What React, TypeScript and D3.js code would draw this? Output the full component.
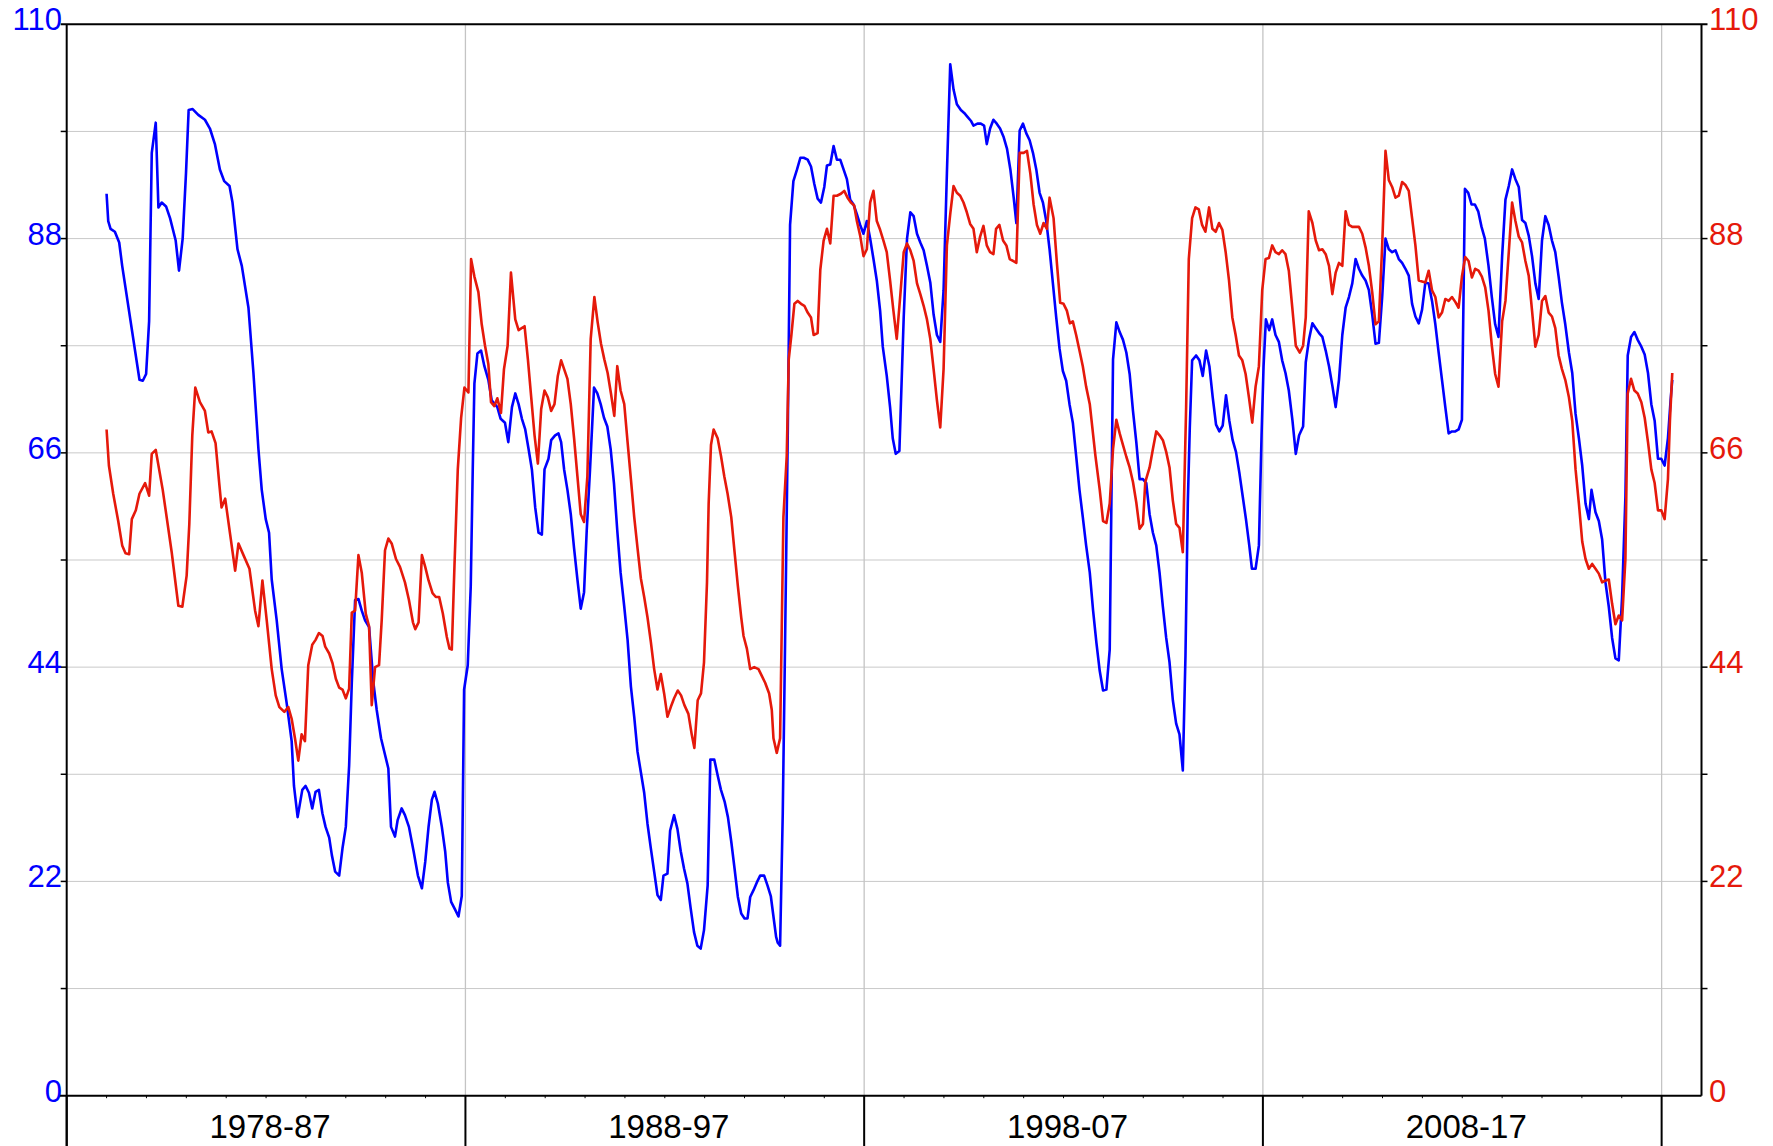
import React from "react";
import * as d3 from "d3";

// Month index counted from January 1979 (0 = Jan 1979).
const blue1979_87: [number, number][] = [
  [0, 92.6], [0.5, 89.8], [1.2, 89.0], [2.5, 88.7], [3.8, 87.6], [4.7, 85.2], [9.9, 73.5], [10.9, 73.4], [11.9, 74.1], [12.8, 79.5], [13.6, 96.8], [14.8, 99.9], [15.6, 91.2], [16.6, 91.7], [17.9, 91.3], [19.1, 90.1], [20.8, 87.8], [21.8, 84.7], [22.9, 88.0], [23.9, 94.7], [24.7, 101.2], [25.9, 101.3], [27.6, 100.7], [29.6, 100.2], [31.1, 99.3], [32.6, 97.7], [34.1, 95.1], [35.4, 93.9], [37.0, 93.4], [37.9, 91.7], [39.4, 86.9], [40.7, 85.2], [42.7, 80.9], [44.2, 74.2], [45.7, 66.4], [46.7, 62.2], [47.9, 59.2], [48.9, 57.8], [49.7, 53.0], [51.2, 48.8], [52.7, 43.8], [54.2, 40.3], [55.7, 36.4], [56.4, 31.8], [57.5, 28.6],
  [58.9, 31.4], [59.9, 31.8], [60.9, 31.1], [61.9, 29.5], [62.9, 31.2], [63.9, 31.4], [64.95, 29.0], [65.9, 27.6], [67.0, 26.5], [67.8, 24.7], [68.8, 23.0], [70.0, 22.6], [71.0, 25.4], [72.0, 27.6], [73.0, 33.9], [73.8, 42.4], [74.8, 50.9], [75.8, 51.0], [76.8, 49.8], [77.8, 48.8], [79.0, 48.1], [80.3, 42.4], [81.3, 39.6], [82.6, 36.7], [83.8, 35.0], [84.8, 33.6], [85.6, 27.6], [86.8, 26.6], [87.6, 28.3], [88.8, 29.5], [89.8, 28.8], [91.0, 27.6], [92.4, 25.1], [93.7, 22.6], [94.9, 21.3], [95.9, 24.0], [96.9, 27.6], [97.9, 30.4], [98.7, 31.2], [99.7, 30.0], [100.9, 27.6], [101.9, 25.1], [102.7, 21.9], [103.7, 19.9], [104.9, 19.1], [105.9, 18.4], [106.9, 20.5], [107.6, 41.7],
];
const blue1988_97: [number, number][] = [
  [108.7, 44.2], [109.6, 52.3], [110.2, 64.3], [110.7, 73.1], [111.6, 76.2], [112.7, 76.5], [113.7, 74.9], [114.9, 73.5], [115.9, 71.4], [117.6, 70.7], [118.6, 69.5], [119.9, 69.1], [120.9, 67.1], [122.0, 70.7], [123.0, 72.1], [124.0, 71.0], [125.0, 69.5], [126.0, 68.4], [127.0, 66.4], [128.0, 64.3], [129.0, 60.4], [130.0, 57.8], [131.0, 57.6], [131.8, 64.3], [133.0, 65.4], [133.8, 67.3], [135.0, 67.8], [136.0, 68.0], [136.8, 67.1], [137.7, 64.3], [138.7, 62.2], [139.7, 59.7], [140.7, 56.2], [141.7, 53.0], [142.7, 50.0], [143.7, 51.7], [144.5, 58.0], [145.5, 64.3], [146.7, 72.7], [147.7, 72.1], [148.7, 71.0], [149.7, 69.6], [150.7, 68.7], [151.7, 66.4], [152.7, 62.9], [153.7, 58.0], [154.7, 53.7], [155.8, 50.2], [156.8, 46.8], [157.8, 42.0], [158.8, 38.9], [159.8, 35.3], [160.8, 33.2], [161.8, 31.1], [162.8, 27.9], [163.8, 25.4], [164.8, 23.0], [165.8, 20.6], [166.8, 20.1], [167.6, 22.6], [168.8, 22.8], [169.6, 27.2], [170.8, 28.8], [171.8, 27.4], [172.8, 25.1], [173.8, 23.3], [174.8, 21.8], [175.8, 19.2], [176.8, 16.8], [177.8, 15.4], [178.8, 15.1],
  [179.8, 17.0], [180.9, 21.6], [181.7, 34.5], [182.9, 34.5], [183.9, 32.9], [184.9, 31.4], [186.0, 30.2], [187.0, 28.6], [188.0, 26.1], [189.0, 23.3], [190.0, 20.4], [191.0, 18.7], [192.0, 18.2], [192.9, 18.2], [193.7, 20.4], [194.7, 21.1], [195.7, 21.9], [196.7, 22.6], [197.9, 22.6], [198.9, 21.6], [199.9, 20.5], [200.7, 18.4], [201.5, 16.3], [202.0, 15.7], [202.7, 15.4], [203.5, 29.0], [204.2, 46.6], [205.0, 67.8], [205.7, 89.4], [206.7, 93.9], [207.8, 95.1], [208.8, 96.3], [209.8, 96.3], [211.0, 96.1], [212.0, 95.4], [213.0, 93.6], [214.0, 92.1], [215.0, 91.7], [216.0, 93.3], [216.8, 95.5], [217.8, 95.6], [218.8, 97.5], [219.8, 96.1], [220.8, 96.1], [221.8, 95.1], [222.8, 94.1], [223.8, 92.0], [224.8, 91.5], [225.8, 90.5], [226.8, 89.4], [227.8, 88.5],
];
const blue1998_07: [number, number][] = [
  [228.8, 89.8], [229.8, 88.0], [230.8, 85.9], [231.8, 83.7], [232.8, 80.6], [233.6, 76.9], [234.8, 73.9], [235.8, 70.7], [236.6, 67.5], [237.5, 65.9], [238.6, 66.2], [239.9, 79.9], [240.9, 88.0], [241.9, 90.7], [242.9, 90.3], [243.9, 88.5], [244.9, 87.6], [245.9, 86.8], [246.9, 85.2], [247.9, 83.5], [248.9, 80.2], [249.9, 78.1], [250.9, 77.4], [251.9, 82.7], [252.9, 94.7], [253.9, 105.9], [254.9, 103.3], [255.9, 101.8], [257.1, 101.2], [258.1, 100.9], [259.1, 100.5], [260.1, 100.1], [260.9, 99.6], [262.1, 99.8], [263.1, 99.8], [264.1, 99.6], [264.9, 97.7], [265.9, 99.3], [266.9, 100.2], [267.9, 99.8], [268.9, 99.3], [270.0, 98.4], [271.0, 97.2], [272.0, 95.1], [273.0, 92.2], [273.8, 89.6], [274.8, 99.1], [275.8, 99.8], [276.8, 98.8], [277.8, 98.1], [278.8, 96.8], [279.8, 95.1], [280.8, 92.7], [281.8, 91.7], [282.8, 89.8], [283.8, 86.9], [284.8, 83.4], [285.8, 79.9], [286.8, 76.7], [287.8, 74.4], [288.8, 73.4], [289.8, 71.0], [290.8, 69.1], [291.8, 65.7], [292.8, 62.2], [293.8, 59.4], [294.8, 56.5], [295.9, 53.7], [296.9, 49.8],
  [297.9, 46.5], [298.9, 43.6], [299.9, 41.6], [300.9, 41.7], [301.9, 45.8], [302.9, 75.6], [303.9, 79.4], [304.9, 78.4], [305.9, 77.6], [306.9, 76.3], [307.9, 74.1], [308.9, 70.3], [309.9, 67.1], [310.9, 63.3], [311.9, 63.3], [312.9, 62.9], [313.9, 59.7], [314.9, 57.8], [315.9, 56.5], [316.9, 53.7], [317.9, 50.2], [318.9, 47.0], [319.9, 44.5], [320.9, 40.6], [321.9, 38.2], [322.9, 37.1], [323.9, 33.4], [324.7, 45.2], [325.4, 60.8], [326.0, 68.6], [326.7, 75.5], [327.9, 76.0], [328.9, 75.5], [329.9, 73.9], [330.9, 76.5], [331.9, 74.9], [332.9, 71.7], [333.9, 68.9], [334.9, 68.2], [335.9, 68.8], [336.9, 71.9], [337.9, 69.3], [338.9, 67.3], [339.9, 66.1], [340.9, 64.0], [341.9, 61.6], [342.9, 59.2], [343.9, 56.5], [344.7, 54.1], [345.8, 54.1], [346.8, 56.5], [347.6, 67.8],
];
const blue2008_18: [number, number][] = [
  [348.2, 74.9], [348.9, 79.7], [349.9, 78.6], [350.8, 79.7], [351.8, 78.1], [352.8, 77.4], [353.8, 75.5], [354.8, 74.2], [355.8, 72.4], [356.9, 69.3], [357.9, 65.9], [358.9, 67.8], [360.1, 68.7], [360.9, 75.3], [361.9, 77.7], [362.9, 79.3], [363.9, 78.8], [364.9, 78.3], [365.9, 77.9], [366.9, 76.5], [367.9, 74.9], [368.9, 72.9], [369.9, 70.7], [370.9, 73.5], [371.9, 78.1], [372.9, 80.9], [373.9, 82.0], [374.9, 83.4], [375.9, 85.9], [376.9, 84.9], [377.9, 84.2], [378.9, 83.7], [379.9, 82.7], [380.9, 80.2], [381.9, 77.2], [382.9, 77.3], [383.9, 82.0], [384.9, 88.0], [385.9, 86.9], [386.9, 86.6], [387.9, 86.8], [388.9, 85.9], [389.9, 85.5], [390.9, 84.9], [391.9, 84.2], [392.9, 81.3], [393.9, 80.0], [394.9, 79.3], [395.9, 80.7], [396.9, 83.5], [397.9, 83.4], [398.9, 81.6], [399.9, 79.2], [400.9, 76.3], [401.9, 73.5], [402.9, 70.7], [403.9, 68.0], [404.9, 68.2], [405.9, 68.2], [406.9, 68.4], [407.9, 69.4], [408.8, 93.1], [409.8, 92.7], [410.8, 91.5], [411.8, 91.5], [412.8, 90.8], [413.8, 89.2], [414.8, 88.0], [415.9, 85.2], [416.9, 82.0], [417.9, 79.2], [418.9, 77.9],
  [420.0, 86.2], [421.0, 92.0], [422.0, 93.4], [423.0, 95.1], [424.0, 94.1], [425.0, 93.3], [426.0, 89.9], [427.0, 89.6], [428.0, 88.3], [429.0, 86.2], [430.0, 83.4], [431.0, 81.8], [432.0, 87.8], [433.0, 90.3], [434.0, 89.4], [435.0, 87.8], [436.0, 86.6], [437.0, 84.1], [438.0, 81.4], [439.0, 79.2], [440.1, 76.3], [441.1, 74.2], [442.1, 70.0], [443.1, 67.5], [444.1, 64.7], [445.1, 60.8], [446.1, 59.2], [446.9, 62.2], [448.1, 59.9], [449.1, 59.0], [450.1, 57.1], [451.1, 52.7], [452.1, 50.2], [453.1, 47.0], [454.1, 44.9], [455.1, 44.7], [456.1, 51.2], [457.1, 61.5], [457.8, 76.0], [458.8, 77.9], [459.8, 78.4], [460.8, 77.6], [461.9, 76.9], [462.9, 76.1], [463.9, 74.2], [464.9, 71.0], [465.9, 69.3], [466.9, 65.4], [467.9, 65.4], [468.9, 64.7], [469.9, 67.5], [470.7, 71.4], [471.2, 73.5],
];

const red1979_87: [number, number][] = [
  [0, 68.4], [0.7, 64.7], [2.0, 61.8], [3.5, 59.0], [4.7, 56.5], [5.7, 55.7], [6.8, 55.6], [7.6, 59.2], [8.8, 60.1], [9.9, 61.8], [11.6, 62.9], [12.8, 61.6], [13.6, 65.9], [14.8, 66.3], [16.9, 62.2], [19.6, 55.8], [21.6, 50.3], [22.8, 50.2], [24.1, 53.4], [24.9, 58.7], [25.8, 67.8], [26.7, 72.7], [28.1, 71.2], [29.6, 70.3], [30.6, 68.1], [31.6, 68.2], [32.8, 67.0], [33.9, 62.9], [34.6, 60.4], [35.7, 61.3], [37.2, 57.6], [38.7, 53.9], [39.7, 56.7], [41.2, 55.5], [43.0, 54.1], [44.7, 49.8], [45.7, 48.2], [46.9, 52.9], [48.2, 48.8], [49.7, 43.8], [50.9, 41.1], [52.0, 39.9], [53.5, 39.4], [54.7, 39.9], [55.7, 38.7], [56.7, 36.7], [57.7, 34.4],
  [58.7, 37.1], [59.7, 36.4], [60.7, 44.2], [61.9, 46.3], [62.9, 46.8], [63.9, 47.5], [65.0, 47.2], [65.8, 46.1], [67.0, 45.4], [68.0, 44.4], [69.0, 42.8], [70.0, 41.9], [71.0, 41.7], [72.0, 40.8], [73.0, 41.8], [73.8, 49.6], [74.8, 49.8], [75.8, 55.5], [76.8, 53.7], [78.0, 49.5], [79.0, 48.2], [79.8, 40.1], [80.8, 44.0], [82.0, 44.2], [82.8, 48.8], [83.8, 56.0], [84.8, 57.2], [85.8, 56.7], [87.1, 55.1], [88.3, 54.3], [89.8, 52.7], [91.0, 50.9], [92.2, 48.6], [92.9, 47.9], [93.9, 48.6], [94.9, 55.5], [95.9, 54.3], [96.9, 52.9], [98.1, 51.6], [99.1, 51.2], [100.1, 51.2], [101.2, 49.5], [102.4, 47.1], [103.2, 45.9], [103.9, 45.8], [104.7, 54.4], [105.7, 64.3], [106.7, 69.6], [107.7, 72.7],
];
const red1988_97: [number, number][] = [
  [108.9, 72.2], [109.7, 85.9], [110.7, 84.1], [111.9, 82.5], [112.9, 79.2], [113.9, 77.0], [114.9, 75.1], [115.7, 71.2], [116.7, 70.8], [117.6, 71.6], [118.7, 70.1], [119.6, 74.6], [120.7, 77.0], [121.7, 84.5], [123.0, 79.7], [124.0, 78.6], [125.8, 79.0], [126.8, 75.6], [127.8, 71.7], [128.8, 67.8], [129.8, 64.9], [130.8, 70.5], [131.8, 72.4], [132.8, 71.7], [133.8, 70.3], [134.8, 71.0], [135.8, 73.9], [136.8, 75.5], [137.7, 74.6], [138.7, 73.6], [139.7, 71.0], [140.7, 67.5], [141.7, 63.6], [142.7, 59.7], [143.7, 58.9], [144.7, 63.6], [145.7, 77.7], [146.8, 82.0], [147.8, 79.4], [148.8, 77.2], [149.8, 75.6], [150.8, 74.2], [151.8, 72.1], [152.8, 69.8], [153.7, 74.9], [154.7, 72.4], [155.8, 71.0], [156.8, 67.1], [157.8, 63.3], [158.8, 59.4], [159.8, 56.2], [160.8, 53.1], [161.8, 51.2], [162.8, 49.1], [163.8, 46.6], [164.8, 43.8], [165.8, 41.7], [166.8, 43.3], [167.8, 41.3], [168.8, 38.9], [169.8, 39.9], [170.8, 40.8], [171.9, 41.6], [172.9, 41.1], [173.9, 40.1], [175.1, 39.2], [176.1, 37.1], [176.9, 35.7], [177.9, 40.6], [178.9, 41.3],
  [179.8, 44.5], [180.7, 52.7], [181.2, 60.8], [181.9, 66.8], [182.7, 68.4], [183.9, 67.5], [184.9, 65.7], [185.9, 63.6], [186.9, 61.8], [188.0, 59.4], [189.0, 55.8], [190.0, 52.3], [191.0, 49.1], [191.7, 47.2], [192.7, 45.9], [193.7, 43.8], [194.9, 44.0], [196.2, 43.8], [197.2, 43.1], [198.2, 42.4], [199.4, 41.3], [200.2, 39.6], [200.7, 36.7], [201.7, 35.2], [202.7, 36.7], [203.2, 48.1], [203.7, 59.4], [204.7, 65.7], [205.3, 75.6], [206.1, 78.1], [207.0, 81.3], [208.0, 81.6], [209.0, 81.3], [210.0, 81.1], [211.0, 80.4], [212.0, 79.9], [212.8, 78.1], [214.0, 78.3], [214.8, 84.8], [215.8, 87.8], [216.8, 89.0], [217.8, 87.5], [218.8, 92.4], [219.8, 92.4], [221.0, 92.6], [222.0, 92.9], [223.0, 92.2], [224.0, 91.7], [225.0, 91.4], [225.8, 89.8], [226.8, 88.3], [227.8, 86.2],
];
const red1998_07: [number, number][] = [
  [228.8, 86.9], [229.8, 91.7], [230.8, 92.9], [231.8, 89.8], [232.8, 88.9], [233.8, 87.8], [234.8, 86.6], [235.8, 83.7], [236.8, 80.6], [237.8, 77.7], [238.9, 82.3], [239.9, 86.6], [240.9, 87.5], [241.9, 86.8], [242.9, 85.7], [243.9, 83.4], [244.9, 82.3], [245.9, 81.1], [246.9, 79.7], [247.9, 77.7], [248.9, 74.6], [249.9, 71.4], [250.9, 68.6], [251.9, 74.6], [252.9, 87.3], [253.9, 90.5], [254.9, 93.4], [255.9, 92.7], [256.9, 92.4], [257.9, 91.7], [258.9, 90.7], [259.9, 89.5], [260.9, 89.0], [261.9, 86.6], [262.9, 88.2], [263.9, 89.3], [264.9, 87.3], [265.9, 86.6], [266.9, 86.4], [267.7, 89.0], [268.7, 89.4], [269.8, 87.8], [270.8, 87.3], [271.8, 85.9], [272.8, 85.7], [273.8, 85.5], [274.8, 96.8], [276.0, 96.8], [277.0, 97.0], [278.0, 94.7], [279.0, 91.5], [280.0, 89.4], [281.0, 88.5], [282.0, 89.6], [283.0, 89.0], [283.8, 92.2], [285.0, 90.1], [286.0, 85.5], [287.0, 81.4], [288.0, 81.3], [289.0, 80.6], [289.9, 79.3], [290.8, 79.5], [291.8, 78.1], [292.8, 76.5], [293.8, 74.9], [294.8, 72.8], [295.9, 71.0],
  [297.6, 65.7], [298.9, 62.2], [299.9, 59.0], [300.9, 58.8], [301.9, 60.8], [302.9, 66.4], [303.9, 69.4], [304.9, 68.0], [305.9, 66.8], [306.9, 65.6], [307.9, 64.5], [308.9, 63.0], [309.9, 60.9], [310.9, 58.2], [311.9, 58.7], [312.6, 63.0], [313.9, 64.5], [314.9, 66.4], [315.9, 68.2], [316.9, 67.8], [317.9, 67.3], [318.9, 66.1], [319.9, 64.5], [320.9, 61.1], [321.9, 58.7], [322.9, 58.3], [323.9, 55.8], [324.9, 70.7], [325.7, 85.9], [326.7, 90.1], [327.7, 91.2], [328.7, 91.0], [329.7, 89.4], [330.7, 88.7], [331.8, 91.2], [332.8, 89.0], [333.8, 88.7], [334.8, 89.6], [335.8, 88.9], [336.8, 86.6], [337.8, 83.7], [338.8, 79.9], [339.8, 78.1], [340.8, 76.0], [341.8, 75.5], [342.8, 74.1], [343.8, 71.7], [344.8, 69.1], [345.8, 72.8], [346.8, 74.9], [347.8, 82.7],
];
const red2008_18: [number, number][] = [
  [348.8, 85.9], [349.8, 86.0], [350.8, 87.3], [351.8, 86.6], [352.8, 86.4], [353.8, 86.8], [354.8, 86.4], [355.8, 84.7], [356.9, 80.7], [357.9, 77.0], [359.1, 76.3], [360.1, 77.0], [360.9, 79.9], [361.8, 90.8], [362.9, 89.6], [363.9, 87.8], [364.9, 86.8], [365.9, 86.9], [366.9, 86.4], [367.9, 85.2], [368.9, 82.3], [369.9, 84.5], [370.9, 85.5], [371.9, 85.2], [372.9, 90.8], [373.9, 89.4], [374.9, 89.2], [375.9, 89.2], [376.9, 89.2], [377.9, 88.5], [378.9, 87.1], [379.9, 85.2], [380.9, 82.5], [381.9, 79.2], [382.9, 79.5], [383.9, 87.3], [384.9, 97.0], [385.9, 94.0], [386.9, 93.3], [387.9, 92.2], [388.9, 92.4], [389.9, 93.8], [390.9, 93.5], [391.9, 92.9], [392.9, 90.1], [393.9, 87.3], [394.9, 83.7], [395.9, 83.6], [396.9, 83.5], [397.9, 84.7], [398.9, 82.7], [399.9, 82.0], [400.9, 79.9], [401.9, 80.4], [402.9, 81.8], [403.9, 81.6], [404.9, 82.0], [405.9, 81.5], [406.9, 80.9], [407.9, 84.1], [408.9, 86.1], [409.9, 85.7], [410.9, 84.0], [411.9, 84.9], [412.9, 84.7], [413.9, 84.1], [414.9, 83.0], [415.9, 80.6], [416.9, 77.0], [417.9, 74.1], [418.9, 72.8],
  [420.0, 79.5], [421.0, 81.6], [422.0, 86.6], [423.0, 91.7], [424.0, 89.8], [425.0, 88.2], [426.0, 87.6], [427.0, 85.7], [428.0, 84.2], [429.0, 80.6], [430.0, 76.9], [431.0, 78.1], [432.0, 81.6], [433.0, 82.1], [434.0, 80.4], [435.0, 80.0], [436.0, 78.8], [437.0, 76.0], [438.0, 74.6], [439.0, 73.5], [440.1, 71.7], [441.1, 69.3], [442.1, 64.3], [443.1, 60.8], [444.1, 56.9], [445.1, 55.1], [446.1, 54.1], [447.1, 54.6], [448.1, 54.1], [449.1, 53.6], [450.1, 52.7], [451.1, 52.9], [452.1, 53.0], [453.1, 50.5], [454.1, 48.4], [455.1, 49.3], [456.1, 48.8], [457.1, 55.1], [457.8, 72.1], [458.8, 73.6], [459.8, 72.4], [460.8, 72.1], [461.9, 71.2], [462.9, 69.6], [463.9, 67.1], [464.9, 64.3], [465.9, 62.9], [466.9, 60.1], [467.9, 60.1], [468.9, 59.2], [469.9, 63.3], [470.5, 69.3], [471.2, 74.2],
];

const yTickLabels = [0, 22, 44, 66, 88, 110];
const yGridValues = [11, 22, 33, 44, 55, 66, 77, 88, 99];
const decadeLabels = ["1978-87", "1988-97", "1998-07", "2008-17"];
const decadeStarts = [1978, 1988, 1998, 2008, 2018];

const W = 1773;
const H = 1146;
const BLUE = "#0000ff";
const RED = "#e5190b";
const FONT = "'Liberation Sans', Arial, Helvetica, sans-serif";

export default function App() {
  const x = d3.scaleLinear().domain([1978, 2019]).range([66.7, 1701.5]);
  const y = d3.scaleLinear().domain([0, 110]).range([1095.7, 24.3]);
  const toYear = (m: number) => 1979 + m / 12;

  const blue = [...blue1979_87, ...blue1988_97, ...blue1998_07, ...blue2008_18];
  const red = [...red1979_87, ...red1988_97, ...red1998_07, ...red2008_18];

  const line = d3
    .line<[number, number]>()
    .x((d) => x(toYear(d[0])))
    .y((d) => y(d[1]));

  const [x0, x1] = x.range();
  const [yb, yt] = y.range();
  const minorYears = d3.range(1979, 2019).filter((yr) => yr % 10 !== 8);

  return (
    <div style={{ position: "absolute", left: 0, top: 0, width: W, height: H, background: "#fff" }}>
      <svg width={W} height={H} style={{ display: "block" }}>
        <rect x={0} y={0} width={W} height={H} fill="#fff" />
        {yGridValues.map((v) => (
          <line key={"g" + v} x1={x0} x2={x1} y1={y(v)} y2={y(v)} stroke="#c9c9c9" strokeWidth={1} />
        ))}
        {decadeStarts.slice(1).map((yr) => (
          <line key={"vg" + yr} x1={x(yr)} x2={x(yr)} y1={yt} y2={yb} stroke="#c4c4c4" strokeWidth={1.3} />
        ))}
        <path d={line(blue) || ""} fill="none" stroke={BLUE} strokeWidth={2.6} strokeLinejoin="round" />
        <path d={line(red) || ""} fill="none" stroke={RED} strokeWidth={2.6} strokeLinejoin="round" />
        <line x1={x0 - 6} x2={x1 + 6} y1={yt} y2={yt} stroke="#000" strokeWidth={2} />
        <line x1={x0 - 7} x2={x1} y1={yb} y2={yb} stroke="#000" strokeWidth={2} />
        <line x1={x0} x2={x0} y1={yt} y2={H} stroke="#000" strokeWidth={2} />
        <line x1={x1} x2={x1} y1={yt} y2={yb} stroke="#000" strokeWidth={2} />
        {yGridValues.map((v) => (
          <g key={"t" + v}>
            <line x1={x0 - 6} x2={x0} y1={y(v)} y2={y(v)} stroke="#000" strokeWidth={1.5} />
            <line x1={x1} x2={x1 + 6} y1={y(v)} y2={y(v)} stroke="#000" strokeWidth={1.5} />
          </g>
        ))}
        {yTickLabels.map((v) => (
          <g key={"l" + v} fontFamily={FONT} fontSize={31}>
            <text x={62} y={y(v) + 6} textAnchor="end" fill={BLUE}>
              {v}
            </text>
            <text x={1709} y={y(v) + 6} textAnchor="start" fill={RED}>
              {v}
            </text>
          </g>
        ))}
        {minorYears.map((yr) => (
          <line key={"m" + yr} x1={x(yr)} x2={x(yr)} y1={yb} y2={yb + 2.5} stroke="#000" strokeWidth={1} />
        ))}
        {decadeStarts.map((yr) => (
          <line key={"M" + yr} x1={x(yr)} x2={x(yr)} y1={yb} y2={H} stroke="#000" strokeWidth={2} />
        ))}
        {decadeLabels.map((lab, i) => (
          <text
            key={lab}
            x={x(decadeStarts[i] + 5) + 4}
            y={1138}
            textAnchor="middle"
            fontFamily={FONT}
            fontSize={33}
            fill="#000"
          >
            {lab}
          </text>
        ))}
      </svg>
    </div>
  );
}
